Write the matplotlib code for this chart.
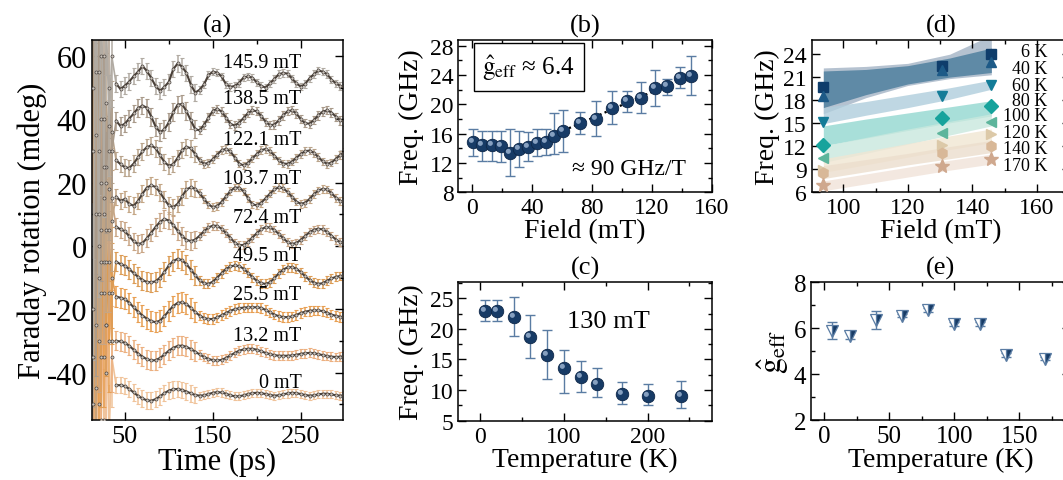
import numpy as np
import matplotlib.pyplot as plt
from matplotlib.path import Path
from matplotlib.ticker import MultipleLocator

plt.rcParams['font.family'] = ['Liberation Serif', 'DejaVu Serif']
plt.rcParams['mathtext.fontset'] = 'stix'
plt.rcParams['axes.unicode_minus'] = False

# ---------------- (a) Faraday rotation transients ----------------
time_burst = [14, 17, 20, 23, 26, 29, 32, 35]
time_main = list(range(40, 301, 5))
time_ps = np.array(time_burst + time_main)

fields_a = ['0 mT', '13.2 mT', '25.5 mT', '49.5 mT', '72.4 mT',
            '103.7 mT', '122.1 mT', '138.5 mT', '145.9 mT']

tr_0 = [-80, 10, -65, -5, -55, -25, -60, -35,
        -44.0, -44.0, -44.3, -45.2, -46.3, -47.4, -48.2, -48.8, -48.9, -48.4,
        -47.5, -46.5, -45.7, -45.3, -45.2, -45.5, -46.0, -46.6, -47.1, -47.3,
        -47.2, -46.8, -46.4, -46.2, -46.3, -46.7, -47.2, -47.5, -47.5, -47.2,
        -46.8, -46.5, -46.4, -46.5, -46.8, -47.1, -47.3, -47.2, -46.9, -46.6,
        -46.4, -46.5, -46.8, -47.1, -47.3, -47.2, -46.9, -46.7, -46.7, -46.9,
        -47.2, -47.3, -47.2]
tr_13 = [30, -75, 10, -55, -5, -40, -15, -30,
         -30.0, -30.2, -30.6, -31.6, -32.8, -34.0, -35.0, -35.8, -36.2, -36.1,
         -35.4, -34.3, -33.1, -32.2, -31.6, -31.5, -31.9, -32.6, -33.4, -34.3,
         -35.1, -35.7, -36.1, -36.2, -36.0, -35.4, -34.6, -33.8, -33.1, -32.7,
         -32.5, -32.5, -32.8, -33.3, -33.8, -34.2, -34.5, -34.7, -34.7, -34.7,
         -34.6, -34.4, -34.1, -33.9, -33.8, -33.9, -34.2, -34.5, -34.8, -35.0,
         -35.1, -35.0, -34.9]
tr_25 = [-65, 35, -50, 20, -35, 5, -30, -10,
         -16.0, -16.4, -16.8, -18.0, -19.4, -20.8, -22.0, -23.0, -23.8, -24.1,
         -23.6, -22.2, -20.5, -19.0, -18.0, -17.8, -18.4, -19.6, -20.9, -22.0,
         -22.8, -23.1, -23.1, -22.6, -21.9, -21.2, -20.5, -20.0, -19.7, -19.5,
         -19.4, -19.4, -19.4, -19.6, -20.2, -21.0, -21.7, -22.2, -22.5, -22.5,
         -22.3, -21.8, -21.2, -20.8, -20.5, -20.4, -20.4, -20.6, -21.1, -21.7,
         -22.1, -22.4, -22.5]
tr_49 = [50, -60, 30, -35, 15, -25, 5, -15,
         -5.0, -5.8, -6.3, -7.4, -8.6, -9.8, -10.8, -11.4, -11.5, -11.2,
         -10.0, -8.2, -6.2, -4.8, -4.1, -4.5, -5.8, -7.5, -9.3, -10.9,
         -11.8, -12.0, -11.3, -10.0, -8.6, -7.3, -6.5, -6.2, -6.4, -7.2,
         -8.5, -9.9, -11.0, -11.8, -12.0, -11.5, -10.2, -8.7, -7.5, -6.8,
         -6.7, -7.2, -8.3, -9.6, -10.8, -11.6, -12.0, -11.8, -11.0, -10.3,
         -9.8, -9.5, -9.4]
tr_72 = [-50, 55, -30, 40, -15, 25, -5, 15,
         6.0, 5.2, 4.6, 3.0, 1.4, 0.6, 0.9, 2.4, 4.2, 6.0,
         7.6, 8.5, 8.0, 6.6, 4.8, 3.1, 1.9, 1.5, 2.0, 3.2,
         4.6, 5.8, 6.4, 6.3, 5.4, 4.0, 2.5, 1.0, 0.2, 0.3,
         1.2, 2.6, 4.0, 5.2, 5.9, 5.8, 5.0, 3.8, 2.4, 1.2,
         0.6, 0.9, 1.9, 3.1, 4.3, 5.1, 5.4, 5.2, 4.4, 3.2,
         2.0, 1.1, 0.6]
tr_103 = [70, -45, 55, -15, 40, -5, 30, 8,
          15.5, 14.2, 14.8, 13.2, 12.7, 14.2, 16.5, 18.4, 19.1, 18.6,
          16.9, 14.6, 12.8, 12.2, 13.3, 15.6, 17.8, 18.5, 18.0, 16.6,
          14.8, 13.1, 12.2, 12.6, 13.9, 15.6, 17.3, 18.4, 18.4, 17.2,
          15.1, 13.1, 12.8, 13.6, 15.0, 16.5, 17.8, 18.5, 18.2, 17.0,
          15.5, 14.0, 13.3, 13.6, 14.8, 16.3, 17.5, 18.0, 17.8, 16.6,
          15.2, 14.2, 13.8]
tr_122 = [-35, 80, -10, 60, 10, 45, 18, 36,
          27.0, 25.8, 24.8, 24.6, 26.0, 28.0, 29.8, 31.2, 31.7, 30.8,
          28.6, 26.4, 25.3, 25.8, 27.8, 30.2, 31.3, 30.8, 29.0, 27.0,
          25.9, 26.2, 27.4, 28.8, 30.2, 30.6, 29.8, 27.9, 26.0, 25.4,
          26.2, 27.6, 29.0, 30.2, 30.6, 29.9, 28.5, 27.0, 26.0, 25.9,
          26.6, 27.8, 29.0, 29.9, 30.1, 29.4, 28.0, 26.7, 25.9, 26.3,
          27.5, 28.7, 29.6]
tr_138 = [90, -25, 75, 5, 60, 20, 50, 30,
          39.5, 37.8, 38.6, 40.2, 41.8, 43.5, 44.3, 43.6, 40.8, 37.6,
          35.9, 36.8, 39.0, 42.2, 44.6, 44.8, 42.5, 39.6, 36.8, 36.5,
          38.2, 40.5, 42.6, 43.3, 42.4, 40.5, 38.5, 38.0, 38.9, 40.4,
          41.9, 42.8, 42.5, 41.0, 39.2, 38.1, 38.3, 39.6, 41.2, 42.5,
          42.8, 41.8, 40.0, 38.7, 38.6, 39.7, 41.2, 42.4, 42.8, 42.1,
          40.8, 39.6, 39.1]
tr_145 = [-20, 95, 0, 85, 25, 70, 38, 60,
          51.2, 49.5, 50.6, 51.9, 53.6, 55.0, 56.8, 55.2, 53.0, 50.4,
          49.0, 50.2, 51.8, 55.8, 57.6, 56.6, 54.6, 50.9, 48.4, 49.3,
          51.0, 53.9, 55.0, 54.7, 53.5, 51.0, 50.2, 50.5, 51.5, 53.2,
          53.5, 53.1, 51.6, 50.5, 50.0, 51.3, 52.7, 54.2, 54.6, 54.4,
          52.9, 51.3, 50.3, 51.1, 52.9, 54.2, 55.4, 55.0, 54.2, 52.5,
          51.3, 50.5, 50.0]
traces = [tr_0, tr_13, tr_25, tr_49, tr_72, tr_103, tr_122, tr_138, tr_145]
err_burst = 16.0
err_early = [2.6, 3.0, 3.2, 3.0, 2.8, 2.6, 2.6, 2.8, 2.6]   # t <= 130 ps
err_late = [1.3, 1.4, 1.5, 1.4, 1.3, 1.2, 1.2, 1.3, 1.2]    # t > 130 ps
label_y = [-43.1, -28.3, -15.5, -3.1, 9.1, 21.4, 33.6, 46.4, 58.0]
trace_colors = ['#f0c39a', '#ecb080', '#e89f52', '#dc9c55', '#c9a585',
                '#c4a685', '#b9a48c', '#a99a8a', '#b1aba3']

# ---------------- (b) frequency vs field ----------------
field_b = [0.5, 7, 13.2, 19.3, 25.5, 31.5, 37.4, 43.3, 49.5, 55, 61,
           72.4, 83, 93.5, 103.7, 112.5, 122.1, 130, 138.5, 145.9]
freq_b = [14.8, 14.4, 14.4, 14.3, 13.4, 13.9, 14.2, 14.7, 14.9, 15.7, 16.3,
          17.45, 18.0, 19.5, 20.4, 20.9, 22.2, 22.45, 23.6, 23.9]
freq_b_hi = [16.6, 16.4, 16.4, 16.4, 16.6, 16.3, 16.2, 16.6, 16.6, 18.8, 19.2,
             18.9, 20.4, 21.8, 21.8, 23.0, 24.7, 23.5, 25.05, 26.6]
freq_b_lo = [13.0, 12.3, 12.3, 12.1, 10.2, 11.4, 12.2, 12.9, 13.1, 13.2, 13.5,
             15.95, 15.7, 17.3, 19.0, 18.8, 19.7, 21.2, 22.2, 21.2]
fit_field = [24, 146]
fit_freq = [13.1, 24.0]

# ---------------- (c) frequency vs temperature at 130 mT ----------------
temp_c = [6, 20, 40, 60, 80, 100, 120, 140, 170, 200, 240]
freq_c = [22.97, 22.86, 21.87, 18.74, 15.66, 13.63, 12.09, 11.04, 9.34, 9.07, 9.07]
freq_c_hi = [24.78, 24.73, 25.16, 22.34, 19.73, 16.47, 14.67, 13.64, 11.3, 11.03, 11.41]
freq_c_lo = [21.25, 21.25, 18.75, 15.27, 11.85, 9.57, 9.67, 8.86, 7.77, 7.5, 7.07]

# ---------------- (d) frequency vs field for several temperatures ----------------
field_d = [93.6, 130.5, 145.9]
temp_d = ['6 K', '40 K', '60 K', '80 K', '100 K', '120 K', '140 K', '170 K']
freq_d = [[19.64, 22.39, 24.0],
          [18.55, 21.95, 23.04],
          [15.15, 18.55, 19.95],
          [12.1, 15.59, 17.16],
          [10.44, 13.62, 15.06],
          [8.83, 12.1, 13.54],
          [8.44, 11.0, 12.0],
          [6.87, 9.4, 10.27]]
band_field = [93.8, 107, 120, 133, 145.9]
band_lo = [[16.2, 18.3, 19.9, 20.8, 21.3],
           [17.0, 18.7, 20.1, 21.0, 21.6],
           [14.9, 16.0, 17.0, 18.1, 19.4],
           [12.0, 13.0, 14.0, 15.0, 15.9],
           [9.8, 11.0, 12.2, 13.4, 14.6],
           [8.5, 9.5, 10.5, 11.5, 12.4],
           [7.7, 8.6, 9.5, 10.3, 11.1],
           [6.1, 7.0, 7.9, 8.8, 9.6]]
band_hi = [[22.2, 22.4, 22.8, 24.0, 26.5],
           [21.8, 22.0, 22.5, 23.5, 24.8],
           [17.0, 17.8, 18.7, 19.6, 20.6],
           [14.6, 15.5, 16.3, 17.1, 17.9],
           [12.0, 13.1, 14.2, 15.2, 16.2],
           [10.3, 11.3, 12.3, 13.3, 14.2],
           [9.4, 10.2, 11.0, 11.9, 12.7],
           [7.4, 8.3, 9.2, 10.1, 10.9]]
marker_d = ['s', '^', 'v', 'D', '<', '>', 'h', '*']
color_d = ['#0f3d6b', '#1d5a87', '#137c98', '#17a39c', '#5db59c',
           '#dcc9a8', '#d8b898', '#cfa88e']
band_color = ['#a3b3c5', '#4a7c9c', '#b0cedc', '#93d8d0', '#c9e8de',
              '#f1e6d3', '#ecdecd', '#f1e3d9']

# ---------------- (e) effective g factor vs temperature ----------------
temp_e = [6, 20, 40, 60, 80, 100, 120, 140, 170]
g_e = [5.86, 5.66, 6.37, 6.55, 6.80, 6.19, 6.18, 4.82, 4.68]
g_e_hi = [0.41, 0.17, 0.40, 0.08, 0.08, 0.10, 0.08, 0.08, 0.06]
g_e_lo = [0.35, 0.15, 0.39, 0.08, 0.08, 0.10, 0.08, 0.08, 0.06]

navy = '#173b66'
bar_blue = '#5a7ca3'
highlight = Path.circle(center=(-0.3, 0.3), radius=0.35)


def style_axes(ax, xmaj, xmin, ymaj, ymin, lsize):
    ax.xaxis.set_major_locator(MultipleLocator(xmaj))
    ax.yaxis.set_major_locator(MultipleLocator(ymaj))
    if xmin:
        ax.xaxis.set_minor_locator(MultipleLocator(xmin))
    if ymin:
        ax.yaxis.set_minor_locator(MultipleLocator(ymin))
    ax.tick_params(which='both', direction='in', top=True, right=True, width=1)
    ax.tick_params(which='major', length=6, labelsize=lsize)
    ax.tick_params(which='minor', length=3)
    for s in ax.spines.values():
        s.set_linewidth(1.1)


def spheres(ax, x, y, ms):
    ax.plot(x, y, 'o', ms=ms, color=navy, mec='#0e2748', mew=0.6, zorder=4)
    ax.plot(x, y, ls='none', marker=highlight, ms=ms * 0.75, color='#9bb3d1',
            alpha=0.85, mew=0, zorder=5)


fig = plt.figure(figsize=(10.63, 4.81), dpi=100)

# (a)
ax = fig.add_axes([0.0865, 0.1247, 0.2361, 0.790])
nb = len(time_burst)
for vals, e1, e2, col in zip(traces, err_early, err_late, trace_colors):
    yerr = [err_burst] * nb + [e1 if t <= 130 else e2 for t in time_main]
    ax.errorbar(time_ps, vals, yerr=yerr, fmt='none', ecolor=col,
                elinewidth=1.1, capsize=1.2, capthick=0.8, zorder=2)
    # burst part drawn in the trace colour, the rest as a dark line
    ax.plot(time_ps[:nb + 1], vals[:nb + 1], '-', color=col, lw=1.2, zorder=2)
    ax.plot(time_ps[nb:], vals[nb:], '-', color='#4a4038', lw=1.5, zorder=3)
    ax.plot(time_ps, vals, 'o', ms=2.2, mfc='#cfc7bf', mec='#4a4440',
            mew=0.5, zorder=4)
for lab, ly in zip(fields_a, label_y):
    ax.text(251, ly, lab, ha='right', va='center', fontsize=14.5, zorder=6)
ax.set_xlim(12.5, 298)
ax.set_ylim(-55, 65)
style_axes(ax, 100, 50, 20, 10, 22)
ax.set_xticks([50, 150, 250])
ax.tick_params(axis='x', labelsize=19)
ax.set_xlabel('Time (ps)', fontsize=22, labelpad=0)
ax.set_ylabel('Faraday rotation (mdeg)', fontsize=22, labelpad=0)
ax.set_title('(a)', fontsize=19, pad=6)

# (b)
ax = fig.add_axes([0.4311, 0.5981, 0.2387, 0.3173])
ax.errorbar(field_b, freq_b,
            yerr=[np.subtract(freq_b, freq_b_lo), np.subtract(freq_b_hi, freq_b)],
            fmt='none', ecolor=bar_blue, elinewidth=1.0, capsize=3.5, capthick=1.0)
ax.plot(fit_field, fit_freq, ls=(0, (1, 1.5)), color='black', lw=1.6, zorder=3)
spheres(ax, field_b, freq_b, 9)
ax.set_xlim(-9, 160)
ax.set_ylim(8, 28.8)
style_axes(ax, 40, 20, 4, 2, 17)
ax.set_xlabel('Field (mT)', fontsize=20, labelpad=0)
ax.set_ylabel('Freq. (GHz)', fontsize=20, labelpad=4)
ax.set_title('(b)', fontsize=19, pad=6)
ax.text(0.277, 0.821, r'$\hat{\mathrm{g}}_{\mathrm{eff}}$ ≈ 6.4', transform=ax.transAxes,
        ha='center', va='center', fontsize=18,
        bbox=dict(boxstyle='square,pad=0.35', fc='white', ec='black', lw=1.0))
ax.text(0.672, 0.153, '≈ 90 GHz/T', transform=ax.transAxes,
        ha='center', va='center', fontsize=17)

# (c)
ax = fig.add_axes([0.4311, 0.1233, 0.2387, 0.2877])
ax.errorbar(temp_c, freq_c,
            yerr=[np.subtract(freq_c, freq_c_lo), np.subtract(freq_c_hi, freq_c)],
            fmt='none', ecolor=bar_blue, elinewidth=1.0, capsize=3.5, capthick=1.0)
spheres(ax, temp_c, freq_c, 9)
ax.set_xlim(-26, 277)
ax.set_ylim(5, 27.6)
style_axes(ax, 100, 50, 5, 2.5, 17)
ax.set_xlabel('Temperature (K)', fontsize=20, labelpad=0)
ax.set_ylabel('Freq. (GHz)', fontsize=20, labelpad=4)
ax.set_title('(c)', fontsize=19, pad=6)
ax.text(0.59, 0.723, '130 mT', transform=ax.transAxes,
        ha='center', va='center', fontsize=19)

# (d)
ax = fig.add_axes([0.7636, 0.5981, 0.2430, 0.3173])
for lo, hi, bc in zip(band_lo, band_hi, band_color):
    ax.fill_between(band_field, lo, hi, color=bc, alpha=0.8, lw=0, zorder=1)
for vals, mk, col in zip(freq_d, marker_d, color_d):
    ms = 10 if mk == '*' else 7.5
    ax.plot(field_d, vals, ls='none', marker=mk, ms=ms, color=col, mec=col, zorder=4)
label_pos = [0.922, 0.810, 0.703, 0.600, 0.502, 0.393, 0.290, 0.178]
for lab, ly in zip(temp_d, label_pos):
    ax.text(0.913, ly, lab, transform=ax.transAxes, ha='right', va='center',
            fontsize=13, linespacing=0.9)
ax.set_xlim(90.2, 170.3)
ax.set_ylim(5.9, 25.9)
style_axes(ax, 20, 10, 3, None, 17)
ax.set_xlabel('Field (mT)', fontsize=20, labelpad=0)
ax.set_ylabel('Freq. (GHz)', fontsize=20, labelpad=2)
ax.set_title('(d)', fontsize=19, pad=6)

# (e)
ax = fig.add_axes([0.7629, 0.1247, 0.2437, 0.2863])
ax.errorbar(temp_e, g_e, yerr=[g_e_lo, g_e_hi], fmt='none', ecolor=bar_blue,
            elinewidth=1.0, capsize=3.5, capthick=1.0)
ax.plot(temp_e, g_e, ls='none', marker='v', ms=9, fillstyle='right',
        mfc=navy, mfcalt='white', mec=bar_blue, mew=0.9, zorder=4)
ax.set_xlim(-10, 189)
ax.set_ylim(2, 8)
style_axes(ax, 50, 25, 2, 1, 18)
ax.set_xlabel('Temperature (K)', fontsize=20, labelpad=0)
ax.set_ylabel(r'$\hat{\mathrm{g}}_{\mathrm{eff}}$', fontsize=23, labelpad=2)
ax.set_title('(e)', fontsize=19, pad=6)

fig.savefig('out.png', dpi=100)
